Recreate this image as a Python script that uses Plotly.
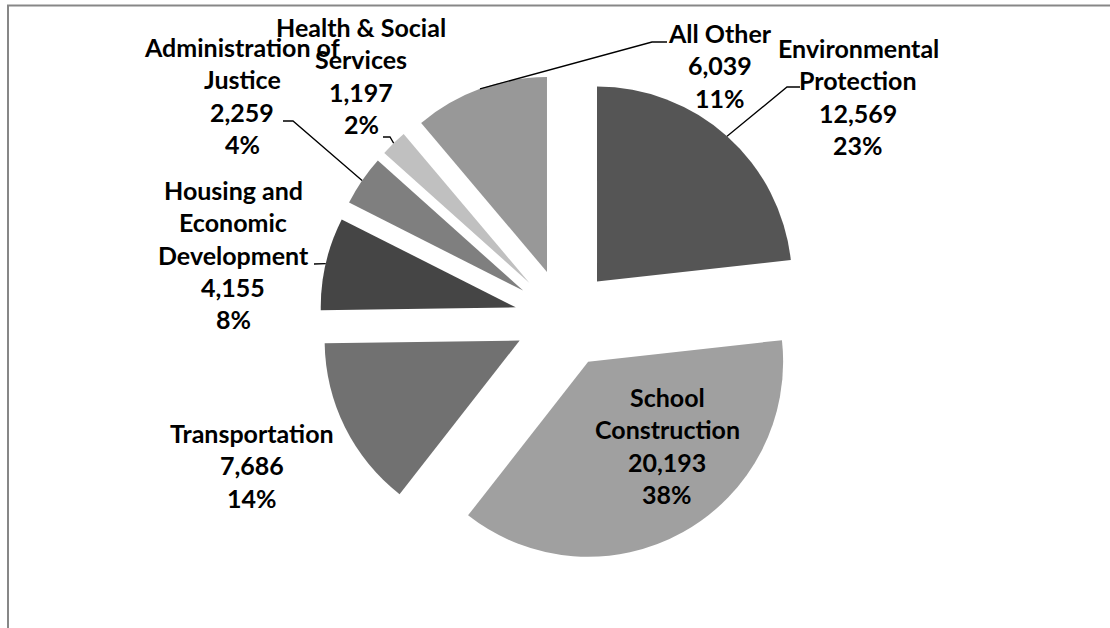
import math
import plotly.graph_objects as go

# ---------------- data ----------------
categories = ["Environmental Protection", "School Construction", "Transportation",
              "Housing and Economic Development", "Administration of Justice",
              "Health & Social Services", "All Other"]
values = [12569, 20193, 7686, 4155, 2259, 1197, 6039]
value_labels = ["12,569", "20,193", "7,686", "4,155", "2,259", "1,197", "6,039"]
pct_labels = ["23%", "38%", "14%", "8%", "4%", "2%", "11%"]
name_lines = [["Environmental", "Protection"], ["School", "Construction"], ["Transportation"],
              ["Housing and", "Economic", "Development"], ["Administration of", "Justice"],
              ["Health & Social", "Services"], ["All Other"]]
colors = ["#555555", "#a0a0a0", "#717171", "#454545", "#7f7f7f", "#c0c0c0", "#989898"]

# ---------------- layout constants (px) ----------------
W, H = 1110, 628
CX, CY = 564, 318.5      # pie centre
R = 195                  # slice radius
PULL = 0.254             # explosion (fraction of radius)
LINE_GAP = 32.3
FONT = dict(family="Lato", size=25, color="black")

# label block centre x and first-line centre y
label_pos = [(858, 48), (667, 397), (252, 433), (233, 190), (242, 47), (361, 27), (720, 33)]
# label-side leader points (None = no leader)
leader_pts = [[(800, 87), (787, 87)], None, None, [(314, 264)],
              [(283, 121), (293, 121)], [(383, 137), (390, 137)], [(667, 42), (652, 42)]]


def px(x):
    return x / W


def py(y):
    return 1 - y / H


half = R * (1 + PULL)
fig = go.Figure(go.Pie(
    labels=categories, values=values, sort=False, direction="clockwise", rotation=0,
    pull=[PULL] * len(values), textinfo="none", hoverinfo="label+value+percent",
    marker=dict(colors=colors, line=dict(width=0)), showlegend=False,
    domain=dict(x=[px(CX - half), px(CX + half)], y=[py(CY + half), py(CY - half)]),
))

annotations = []
for i, lines in enumerate(name_lines):
    all_lines = lines + [value_labels[i], pct_labels[i]]
    lx, ly = label_pos[i]
    for k, t in enumerate(all_lines):
        annotations.append(dict(
            x=px(lx), y=py(ly + k * LINE_GAP), xref="paper", yref="paper",
            text="<b>%s</b>" % t, showarrow=False, xanchor="center", yanchor="middle",
            font=FONT))

shapes = []
# chart border (top and left visible, rest cropped)
shapes.append(dict(type="rect", xref="paper", yref="paper",
                   x0=px(8), x1=1.05, y0=-0.05, y1=py(5.5),
                   line=dict(color="#878787", width=2), fillcolor="rgba(0,0,0,0)"))

# leader lines: slice end from data geometry
total = sum(values)
cum = 0
for i, v in enumerate(values):
    mid = (cum + v / 2) / total * 2 * math.pi
    cum += v
    if leader_pts[i] is None:
        continue
    ax = CX + half * math.sin(mid)
    ay = CY - half * math.cos(mid)
    pts = leader_pts[i] + [(ax, ay)]
    path = "M " + " L ".join("%f,%f" % (px(x), py(y)) for x, y in pts)
    shapes.append(dict(type="path", xref="paper", yref="paper", path=path,
                       line=dict(color="black", width=1.3)))

fig.update_layout(
    width=W, height=H, autosize=False,
    margin=dict(l=0, r=0, t=0, b=0),
    paper_bgcolor="white", plot_bgcolor="white",
    annotations=annotations, shapes=shapes,
)
fig.write_html("out.html", config={"displayModeBar": False},
               post_script="document.body.style.margin='0';document.body.style.overflow='hidden';")
